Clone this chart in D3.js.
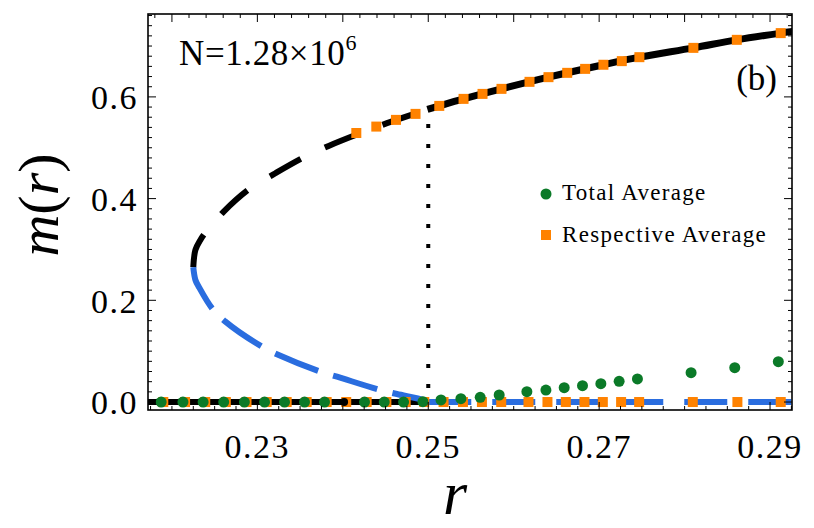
<!DOCTYPE html>
<html>
<head>
<meta charset="utf-8">
<script src="https://cdn.jsdelivr.net/npm/d3@7"></script>
<style>
  body { margin: 0; background: #fff; }
  svg text { font-family: "Liberation Serif", "Times New Roman", serif; fill: #000; }
</style>
</head>
<body>
<script>
// Total Average (green dots)
const totalR = [0.21874, 0.22129, 0.22365, 0.22606, 0.22848, 0.23084, 0.23318, 0.23552, 0.23786,
  0.24254, 0.24485, 0.24711, 0.24938, 0.25149, 0.25382, 0.25608, 0.2583, 0.26154, 0.26377,
  0.26591, 0.26805, 0.2702, 0.27234, 0.27448, 0.28076, 0.28587, 0.29097];
const totalM = [0, 0, 0, 0, 0, 0, 0, 0, 0,
  0, 0, 0, 0.0006, 0.004, 0.0065, 0.0093, 0.0138, 0.0203, 0.0236,
  0.0281, 0.0321, 0.036, 0.0407, 0.0453, 0.0577, 0.0675, 0.0793];

// Respective Average (orange squares), zero branch then upper branch
const respR = [0.21899, 0.22154, 0.2239, 0.22631, 0.22873, 0.23109, 0.23343, 0.23577, 0.23811,
  0.2404, 0.24279, 0.2451, 0.24736, 0.24953, 0.25179, 0.25406, 0.25628, 0.25854, 0.26173,
  0.26395, 0.2661, 0.26828, 0.27043, 0.27257, 0.27468, 0.28096, 0.28618, 0.29125,
  0.24158, 0.24392, 0.24622, 0.24851, 0.25129, 0.25413, 0.25635, 0.25857, 0.26185,
  0.26407, 0.26626, 0.26836, 0.2705, 0.27265, 0.27471, 0.28103, 0.28611, 0.29125];
const respM = [0, 0, 0, 0, 0, 0, 0, 0, 0,
  0, 0, 0, 0, 0, 0, 0, 0, 0, 0,
  0, 0, 0, 0, 0, 0, 0, 0, 0,
  0.529, 0.5416, 0.5548, 0.5666, 0.5823, 0.5961, 0.6059, 0.6158, 0.6296,
  0.6388, 0.6473, 0.6551, 0.6632, 0.6703, 0.6781, 0.6964, 0.7122, 0.7254];

// single black point on the zero line
const blackR = [0.24015];
const blackM = [0];

// theory curve
const upperDashR = [0.2225, 0.22275, 0.22333, 0.22392, 0.22606, 0.22918, 0.23211, 0.23561, 0.23834, 0.24205, 0.24517, 0.24975];
const upperDashM = [0.265, 0.299, 0.3187, 0.333, 0.3744, 0.4204, 0.4499, 0.4826, 0.5036, 0.5286, 0.5483, 0.5742];
const upperSolidR = [0.2499, 0.25129, 0.25413, 0.25857, 0.26407, 0.2705, 0.27471, 0.28103, 0.28611, 0.29125, 0.2935];
const upperSolidM = [0.5753, 0.5823, 0.5961, 0.6158, 0.6388, 0.6632, 0.6781, 0.6964, 0.7122, 0.7254, 0.7305];
const lowerR = [0.2225, 0.22275, 0.22314, 0.2247, 0.22626, 0.23055, 0.23249, 0.23737, 0.23932, 0.24439, 0.24634, 0.24945, 0.25];
const lowerM = [0.265, 0.24, 0.2268, 0.1843, 0.158, 0.1088, 0.0925, 0.0596, 0.0498, 0.0236, 0.0157, 0.0039, 0];
const zeroStableR = [0.215, 0.25];
const zeroUnstableR = [0.25, 0.2926];
const critR = 0.25;
const critM = [0.0275, 0.547];

const xTicks = [0.23, 0.25, 0.27, 0.29];
const yTicks = [0, 0.2, 0.4, 0.6];

const W = 814, H = 528;
const pL = 148, pR = 792, pT = 14, pB = 410;
const serif = '"Liberation Serif", "Times New Roman", serif';

const svg = d3.select('body').append('svg')
  .attr('width', W).attr('height', H)
  .attr('font-family', serif);

const x = d3.scaleLinear().domain([0.2172, 0.29257]).range([pL, pR]);
const y = d3.scaleLinear().domain([-0.0157, 0.763]).range([pB, pT]);

svg.append('clipPath').attr('id', 'clip')
  .append('rect').attr('x', pL).attr('y', pT)
  .attr('width', pR - pL).attr('height', pB - pT);

const plot = svg.append('g').attr('clip-path', 'url(#clip)');

const line = d3.line().x(d => x(d[0])).y(d => y(d[1])).curve(d3.curveCatmullRom);
const zip = (a, b) => a.map((v, i) => [v, b[i]]);

const blue = '#2a6ddf', green = '#0b7a28', orange = '#ff8200';

// zero branches
plot.append('path').attr('d', line(zeroStableR.map(r => [r, 0])))
  .attr('fill', 'none').attr('stroke', '#000').attr('stroke-width', 6);
plot.append('path').attr('d', line(zeroUnstableR.map(r => [r, 0])))
  .attr('fill', 'none').attr('stroke', blue).attr('stroke-width', 6)
  .attr('stroke-dasharray', '43,21');

// upper and lower branches
plot.append('path').attr('d', line(zip(upperDashR, upperDashM)))
  .attr('fill', 'none').attr('stroke', '#000').attr('stroke-width', 6)
  .attr('stroke-dasharray', '35,27');
plot.append('path').attr('d', line(zip(lowerR, lowerM)))
  .attr('fill', 'none').attr('stroke', blue).attr('stroke-width', 6)
  .attr('stroke-dasharray', '46,16');
plot.append('path').attr('d', line(zip(upperSolidR, upperSolidM)))
  .attr('fill', 'none').attr('stroke', '#000').attr('stroke-width', 7);

// dotted critical line
plot.append('path').attr('d', `M${x(critR)},${y(critM[0])}V${y(critM[1])}`)
  .attr('stroke', '#000').attr('stroke-width', 4).attr('stroke-dasharray', '4,16');

// markers
plot.selectAll('rect.resp').data(zip(respR, respM)).join('rect')
  .attr('class', 'resp')
  .attr('x', d => x(d[0]) - 5).attr('y', d => y(d[1]) - 5)
  .attr('width', 10).attr('height', 10).attr('fill', orange);
plot.selectAll('circle.total').data(zip(totalR, totalM)).join('circle')
  .attr('class', 'total')
  .attr('cx', d => x(d[0])).attr('cy', d => y(d[1])).attr('r', 5.5).attr('fill', green);
plot.selectAll('circle.blk').data(zip(blackR, blackM)).join('circle')
  .attr('class', 'blk')
  .attr('cx', d => x(d[0])).attr('cy', d => y(d[1])).attr('r', 4).attr('fill', '#000');

// frame ticks (all inward)
const tk = svg.append('g').attr('stroke', '#000').attr('stroke-width', 1);
d3.range(0.2175, 0.2926, 0.0025).forEach(v => {
  const major = xTicks.some(t => Math.abs(t - v) < 1e-6);
  const len = major ? 8 : 4;
  tk.append('line').attr('x1', x(v)).attr('x2', x(v)).attr('y1', pB).attr('y2', pB - len);
});
d3.range(0.218, 0.2926, 0.002).forEach(v => {
  const len = Math.abs(v * 100 - Math.round(v * 100)) < 1e-6 ? 8 : 4;
  tk.append('line').attr('x1', x(v)).attr('x2', x(v)).attr('y1', pT).attr('y2', pT + len);
});
d3.range(0, 0.77, 0.02).forEach(v => {
  const len = Math.abs(v * 5 - Math.round(v * 5)) < 1e-6 ? 8 : 4;
  tk.append('line').attr('x1', pL).attr('x2', pL + len).attr('y1', y(v)).attr('y2', y(v));
  tk.append('line').attr('x1', pR).attr('x2', pR - len).attr('y1', y(v)).attr('y2', y(v));
});

svg.append('rect').attr('x', pL).attr('y', pT)
  .attr('width', pR - pL).attr('height', pB - pT)
  .attr('fill', 'none').attr('stroke', '#000').attr('stroke-width', 1.6);

// tick labels
svg.selectAll('text.xt').data(xTicks).join('text')
  .attr('class', 'xt').attr('font-family', serif)
  .attr('x', d => x(d)).attr('y', 458)
  .attr('text-anchor', 'middle').attr('font-size', 34).attr('letter-spacing', 1.5)
  .text(d => d3.format('.2f')(d));
svg.selectAll('text.yt').data(yTicks).join('text')
  .attr('class', 'yt').attr('font-family', serif)
  .attr('x', 138).attr('y', d => y(d)).attr('dy', '0.36em')
  .attr('text-anchor', 'end').attr('font-size', 34).attr('letter-spacing', 1.5)
  .text(d => d3.format('.1f')(d));

// axis titles
const yl = svg.append('text').attr('font-family', serif)
  .attr('transform', 'translate(58,205) rotate(-90)')
  .attr('text-anchor', 'middle').attr('font-size', 58);
yl.append('tspan').attr('font-style', 'italic').text('m');
yl.append('tspan').text('(');
yl.append('tspan').attr('font-style', 'italic').text('r');
yl.append('tspan').text(')');

svg.append('text').attr('font-family', serif).attr('x', 455).attr('y', 514)
  .attr('text-anchor', 'middle').attr('font-size', 62).attr('font-style', 'italic')
  .text('r');

// annotations
const nt = svg.append('text').attr('font-family', serif)
  .attr('x', 179).attr('y', 65).attr('font-size', 35).attr('letter-spacing', 0.6);
nt.append('tspan').text('N=1.28×10');
nt.append('tspan').attr('font-size', 22).attr('dy', -15).text('6');

svg.append('text').attr('font-family', serif).attr('x', 777).attr('y', 90)
  .attr('text-anchor', 'end').attr('font-size', 35).text('(b)');

// legend
const lg = svg.append('g');
lg.append('circle').attr('cx', 546).attr('cy', 194).attr('r', 5.5).attr('fill', green);
lg.append('text').attr('font-family', serif).attr('x', 562).attr('y', 200)
  .attr('font-size', 23).attr('letter-spacing', 1.3)
  .text('Total Average');
lg.append('rect').attr('x', 541).attr('y', 230).attr('width', 10).attr('height', 10).attr('fill', orange);
lg.append('text').attr('font-family', serif).attr('x', 562).attr('y', 242)
  .attr('font-size', 23).attr('letter-spacing', 1.3)
  .text('Respective Average');
</script>
</body>
</html>
